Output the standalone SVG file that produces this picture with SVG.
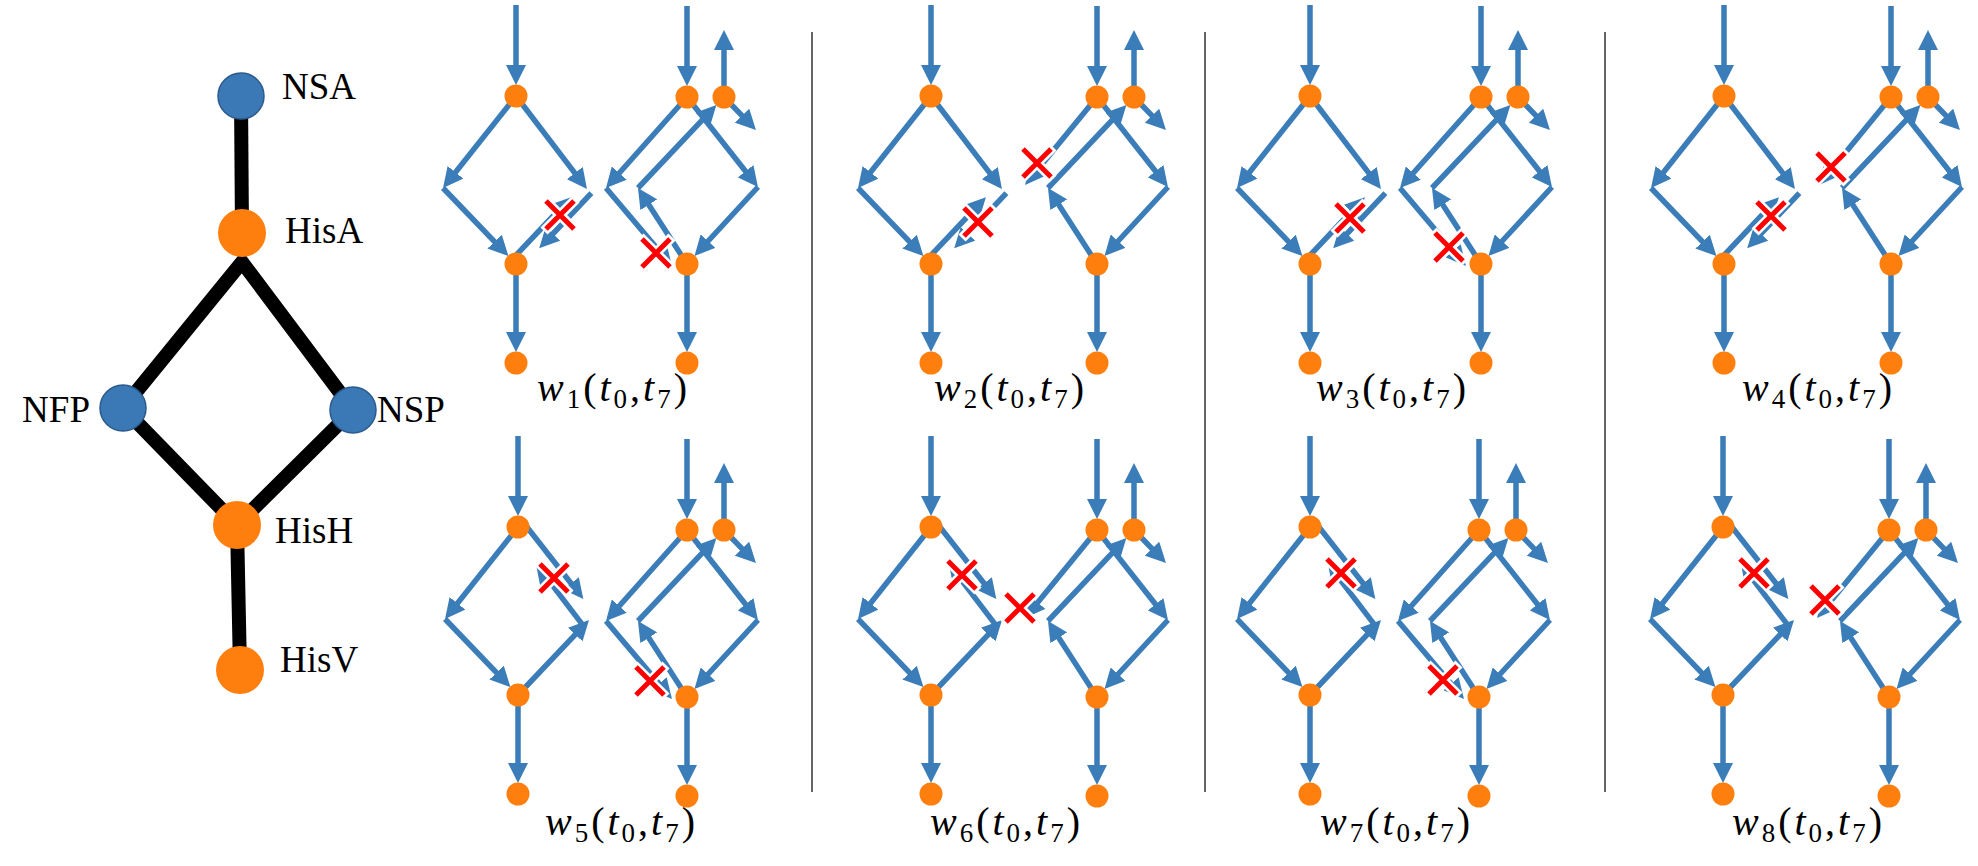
<svg xmlns="http://www.w3.org/2000/svg" width="1978" height="866" viewBox="0 0 1978 866">
<defs>
<marker id="ah" markerUnits="userSpaceOnUse" markerWidth="20" markerHeight="20" viewBox="0 0 20 20" refX="12" refY="10" orient="auto"><path d="M0,0 L20,10 L0,20 z" fill="#3B7DB9"/></marker>
<g id="xm"><path d="M-16,-16 L16,16 M-16,16 L16,-16" stroke="#fff" stroke-width="10"/><path d="M-14,-14 L14,14 M-14,14 L14,-14" stroke="#f00" stroke-width="5"/></g>
</defs>
<style>
.e{stroke:#3B7DB9;stroke-width:5.5;fill:none;marker-end:url(#ah)}
.n{fill:#FF7F0E}
.gb{fill:#3A78B6;stroke:#2B5B8C;stroke-width:1.5}
.go{fill:#FF7F0E}
.gt{font-family:"Liberation Serif","Times New Roman",serif;font-size:37px;fill:#000}
.lbl{font-family:"Liberation Serif","Times New Roman",serif;font-size:40px;fill:#000}
.it{font-style:italic}
.sub{font-size:27px}
.sep{stroke:#333;stroke-width:1.5}
</style>
<rect width="1978" height="866" fill="#fff"/>

<g id="graph">
 <g id="graph-connectors" stroke="#000" stroke-width="14" fill="none">
  <line x1="241" y1="96" x2="242" y2="233"/>
  <polyline points="123,408 242,262 353,410" stroke-linejoin="miter"/>
  <line x1="123" y1="408" x2="237" y2="525"/>
  <line x1="353" y1="410" x2="237" y2="525"/>
  <line x1="237" y1="525" x2="240" y2="670"/>
 </g>
 <g id="NSA"><circle class="gb" cx="241" cy="96" r="23"/><text class="gt" x="282" y="99">NSA</text></g>
 <g id="HisA"><circle class="go" cx="242" cy="233" r="24"/><text class="gt" x="285" y="243">HisA</text></g>
 <g id="NFP"><circle class="gb" cx="123" cy="408" r="23"/><text class="gt" x="90" y="422" text-anchor="end">NFP</text></g>
 <g id="NSP"><circle class="gb" cx="353" cy="410" r="23"/><text class="gt" x="377" y="422">NSP</text></g>
 <g id="HisH"><circle class="go" cx="237" cy="525" r="24"/><text class="gt" x="275" y="543">HisH</text></g>
 <g id="HisV"><circle class="go" cx="240" cy="670" r="24"/><text class="gt" x="280" y="672">HisV</text></g>
</g>

<g id="separators">
 <line class="sep" x1="812" y1="32" x2="812" y2="792"/>
 <line class="sep" x1="1205" y1="32" x2="1205" y2="792"/>
 <line class="sep" x1="1605" y1="32" x2="1605" y2="792"/>
</g>

<!-- w1 -->
<g id="w1">
 <g id="w1-left" transform="translate(516,96)">
  <g id="w1-left-connectors">
   <path class="e" d="M0,-91 L0,-19"/><path class="e" d="M0,0 L-68,85.7"/><path class="e" d="M-73,92 L-13.1,154.3"/><path class="e" d="M0,0 L66.1,86.6"/><path class="e" d="M75.4,97.1 L28.7,146.5"/><path class="e" d="M-4.4,163.9 L49.4,107"/><path class="e" d="M0,168 L0,248"/>
  </g>
  <g id="w1-l1"><circle class="n" cx="0" cy="0" r="11.5"/></g><g id="w1-l2"><circle class="n" cx="0" cy="168" r="11.5"/></g><g id="w1-l3"><circle class="n" cx="0" cy="267" r="11.5"/></g>
 </g>
 <g id="w1-right" transform="translate(687,97)">
  <g id="w1-right-connectors">
   <path class="e" d="M0,-91 L0,-19"/><path class="e" d="M37,0 L37,-59"/><path class="e" d="M37,0 L63.4,27.3"/><path class="e" d="M0,0 L66,83.7"/><path class="e" d="M71,90 L12.9,153"/><path class="e" d="M0,167 L-44.7,97.7"/><path class="e" d="M-49,91 L23.9,13.8"/><path class="e" d="M0,167 L0,247"/><path class="e" d="M0,0 L-75.7,85"/><path class="e" d="M-81,91 L-20.2,162.9"/>
  </g>
  <g id="w1-r1"><circle class="n" cx="0" cy="0" r="11.5"/></g><g id="w1-r2"><circle class="n" cx="37" cy="0" r="11.5"/></g><g id="w1-r3"><circle class="n" cx="0" cy="167" r="11.5"/></g><g id="w1-r4"><circle class="n" cx="0" cy="266" r="11.5"/></g>
 </g>
 <use href="#xm" transform="translate(560,215)"/><use href="#xm" transform="translate(656,253)"/>
 <text class="lbl" x="612" y="401" text-anchor="middle" textLength="150" lengthAdjust="spacing"><tspan class="it">w</tspan><tspan class="sub" dy="7">1</tspan><tspan dy="-7">(</tspan><tspan class="it">t</tspan><tspan class="sub" dy="7">0</tspan><tspan dy="-7">,</tspan><tspan class="it">t</tspan><tspan class="sub" dy="7">7</tspan><tspan dy="-7">)</tspan></text>
</g>

<!-- w2 -->
<g id="w2">
 <g id="w2-left" transform="translate(931,96)">
  <g id="w2-left-connectors">
   <path class="e" d="M0,-91 L0,-19"/><path class="e" d="M0,0 L-68,85.7"/><path class="e" d="M-73,92 L-13.1,154.3"/><path class="e" d="M0,0 L66.1,86.6"/><path class="e" d="M75.4,97.1 L28.7,146.5"/><path class="e" d="M-4.4,163.9 L49.4,107"/><path class="e" d="M0,168 L0,248"/>
  </g>
  <g id="w2-l1"><circle class="n" cx="0" cy="0" r="11.5"/></g><g id="w2-l2"><circle class="n" cx="0" cy="168" r="11.5"/></g><g id="w2-l3"><circle class="n" cx="0" cy="267" r="11.5"/></g>
 </g>
 <g id="w2-right" transform="translate(1097,97)">
  <g id="w2-right-connectors">
   <path class="e" d="M0,-91 L0,-19"/><path class="e" d="M37,0 L37,-59"/><path class="e" d="M37,0 L63.4,27.3"/><path class="e" d="M0,0 L66,83.7"/><path class="e" d="M71,90 L12.9,153"/><path class="e" d="M0,167 L-44.7,97.7"/><path class="e" d="M-49,91 L23.9,13.8"/><path class="e" d="M0,167 L0,247"/><path class="e" d="M0,0 L-66.9,81.8"/>
  </g>
  <g id="w2-r1"><circle class="n" cx="0" cy="0" r="11.5"/></g><g id="w2-r2"><circle class="n" cx="37" cy="0" r="11.5"/></g><g id="w2-r3"><circle class="n" cx="0" cy="167" r="11.5"/></g><g id="w2-r4"><circle class="n" cx="0" cy="266" r="11.5"/></g>
 </g>
 <use href="#xm" transform="translate(978,222)"/><use href="#xm" transform="translate(1037,163)"/>
 <text class="lbl" x="1009" y="401" text-anchor="middle" textLength="150" lengthAdjust="spacing"><tspan class="it">w</tspan><tspan class="sub" dy="7">2</tspan><tspan dy="-7">(</tspan><tspan class="it">t</tspan><tspan class="sub" dy="7">0</tspan><tspan dy="-7">,</tspan><tspan class="it">t</tspan><tspan class="sub" dy="7">7</tspan><tspan dy="-7">)</tspan></text>
</g>

<!-- w3 -->
<g id="w3">
 <g id="w3-left" transform="translate(1310,96)">
  <g id="w3-left-connectors">
   <path class="e" d="M0,-91 L0,-19"/><path class="e" d="M0,0 L-68,85.7"/><path class="e" d="M-73,92 L-13.1,154.3"/><path class="e" d="M0,0 L66.1,86.6"/><path class="e" d="M75.4,97.1 L28.7,146.5"/><path class="e" d="M-4.4,163.9 L49.4,107"/><path class="e" d="M0,168 L0,248"/>
  </g>
  <g id="w3-l1"><circle class="n" cx="0" cy="0" r="11.5"/></g><g id="w3-l2"><circle class="n" cx="0" cy="168" r="11.5"/></g><g id="w3-l3"><circle class="n" cx="0" cy="267" r="11.5"/></g>
 </g>
 <g id="w3-right" transform="translate(1481,97)">
  <g id="w3-right-connectors">
   <path class="e" d="M0,-91 L0,-19"/><path class="e" d="M37,0 L37,-59"/><path class="e" d="M37,0 L63.4,27.3"/><path class="e" d="M0,0 L66,83.7"/><path class="e" d="M71,90 L12.9,153"/><path class="e" d="M0,167 L-44.7,97.7"/><path class="e" d="M-49,91 L23.9,13.8"/><path class="e" d="M0,167 L0,247"/><path class="e" d="M0,0 L-75.7,85"/><path class="e" d="M-81,91 L-20.2,162.9"/>
  </g>
  <g id="w3-r1"><circle class="n" cx="0" cy="0" r="11.5"/></g><g id="w3-r2"><circle class="n" cx="37" cy="0" r="11.5"/></g><g id="w3-r3"><circle class="n" cx="0" cy="167" r="11.5"/></g><g id="w3-r4"><circle class="n" cx="0" cy="266" r="11.5"/></g>
 </g>
 <use href="#xm" transform="translate(1350,218)"/><use href="#xm" transform="translate(1449,247)"/>
 <text class="lbl" x="1391" y="401" text-anchor="middle" textLength="150" lengthAdjust="spacing"><tspan class="it">w</tspan><tspan class="sub" dy="7">3</tspan><tspan dy="-7">(</tspan><tspan class="it">t</tspan><tspan class="sub" dy="7">0</tspan><tspan dy="-7">,</tspan><tspan class="it">t</tspan><tspan class="sub" dy="7">7</tspan><tspan dy="-7">)</tspan></text>
</g>

<!-- w4 -->
<g id="w4">
 <g id="w4-left" transform="translate(1724,96)">
  <g id="w4-left-connectors">
   <path class="e" d="M0,-91 L0,-19"/><path class="e" d="M0,0 L-68,85.7"/><path class="e" d="M-73,92 L-13.1,154.3"/><path class="e" d="M0,0 L66.1,86.6"/><path class="e" d="M75.4,97.1 L28.7,146.5"/><path class="e" d="M-4.4,163.9 L49.4,107"/><path class="e" d="M0,168 L0,248"/>
  </g>
  <g id="w4-l1"><circle class="n" cx="0" cy="0" r="11.5"/></g><g id="w4-l2"><circle class="n" cx="0" cy="168" r="11.5"/></g><g id="w4-l3"><circle class="n" cx="0" cy="267" r="11.5"/></g>
 </g>
 <g id="w4-right" transform="translate(1891,97)">
  <g id="w4-right-connectors">
   <path class="e" d="M0,-91 L0,-19"/><path class="e" d="M37,0 L37,-59"/><path class="e" d="M37,0 L63.4,27.3"/><path class="e" d="M0,0 L66,83.7"/><path class="e" d="M71,90 L12.9,153"/><path class="e" d="M0,167 L-44.7,97.7"/><path class="e" d="M-49,91 L23.9,13.8"/><path class="e" d="M0,167 L0,247"/><path class="e" d="M0,0 L-66.9,81.8"/>
  </g>
  <g id="w4-r1"><circle class="n" cx="0" cy="0" r="11.5"/></g><g id="w4-r2"><circle class="n" cx="37" cy="0" r="11.5"/></g><g id="w4-r3"><circle class="n" cx="0" cy="167" r="11.5"/></g><g id="w4-r4"><circle class="n" cx="0" cy="266" r="11.5"/></g>
 </g>
 <use href="#xm" transform="translate(1771,216)"/><use href="#xm" transform="translate(1831,167)"/>
 <text class="lbl" x="1817" y="401" text-anchor="middle" textLength="150" lengthAdjust="spacing"><tspan class="it">w</tspan><tspan class="sub" dy="7">4</tspan><tspan dy="-7">(</tspan><tspan class="it">t</tspan><tspan class="sub" dy="7">0</tspan><tspan dy="-7">,</tspan><tspan class="it">t</tspan><tspan class="sub" dy="7">7</tspan><tspan dy="-7">)</tspan></text>
</g>

<!-- w5 -->
<g id="w5">
 <g id="w5-left" transform="translate(518,527)">
  <g id="w5-left-connectors">
   <path class="e" d="M0,-91 L0,-19"/><path class="e" d="M0,0 L-68,85.7"/><path class="e" d="M-73,92 L-13.1,154.3"/><path class="e" d="M0,168 L65.5,98.8"/><path class="e" d="M5.6,-4.2 L60.4,65.8"/><path class="e" d="M64.6,97.9 L22.8,43.1"/><path class="e" d="M0,168 L0,248"/>
  </g>
  <g id="w5-l1"><circle class="n" cx="0" cy="0" r="11.5"/></g><g id="w5-l2"><circle class="n" cx="0" cy="168" r="11.5"/></g><g id="w5-l3"><circle class="n" cx="0" cy="267" r="11.5"/></g>
 </g>
 <g id="w5-right" transform="translate(687,530)">
  <g id="w5-right-connectors">
   <path class="e" d="M0,-91 L0,-19"/><path class="e" d="M37,0 L37,-59"/><path class="e" d="M37,0 L63.4,27.3"/><path class="e" d="M0,0 L66,83.7"/><path class="e" d="M71,90 L12.9,153"/><path class="e" d="M0,167 L-44.7,97.7"/><path class="e" d="M-49,91 L23.9,13.8"/><path class="e" d="M0,167 L0,247"/><path class="e" d="M0,0 L-75.7,85"/><path class="e" d="M-81,91 L-20.2,162.9"/>
  </g>
  <g id="w5-r1"><circle class="n" cx="0" cy="0" r="11.5"/></g><g id="w5-r2"><circle class="n" cx="37" cy="0" r="11.5"/></g><g id="w5-r3"><circle class="n" cx="0" cy="167" r="11.5"/></g><g id="w5-r4"><circle class="n" cx="0" cy="266" r="11.5"/></g>
 </g>
 <use href="#xm" transform="translate(554,578)"/><use href="#xm" transform="translate(650,681)"/>
 <text class="lbl" x="620" y="835" text-anchor="middle" textLength="150" lengthAdjust="spacing"><tspan class="it">w</tspan><tspan class="sub" dy="7">5</tspan><tspan dy="-7">(</tspan><tspan class="it">t</tspan><tspan class="sub" dy="7">0</tspan><tspan dy="-7">,</tspan><tspan class="it">t</tspan><tspan class="sub" dy="7">7</tspan><tspan dy="-7">)</tspan></text>
</g>

<!-- w6 -->
<g id="w6">
 <g id="w6-left" transform="translate(931,527)">
  <g id="w6-left-connectors">
   <path class="e" d="M0,-91 L0,-19"/><path class="e" d="M0,0 L-68,85.7"/><path class="e" d="M-73,92 L-13.1,154.3"/><path class="e" d="M0,168 L65.5,98.8"/><path class="e" d="M5.6,-4.2 L60.4,65.8"/><path class="e" d="M64.6,97.9 L22.8,43.1"/><path class="e" d="M0,168 L0,248"/>
  </g>
  <g id="w6-l1"><circle class="n" cx="0" cy="0" r="11.5"/></g><g id="w6-l2"><circle class="n" cx="0" cy="168" r="11.5"/></g><g id="w6-l3"><circle class="n" cx="0" cy="267" r="11.5"/></g>
 </g>
 <g id="w6-right" transform="translate(1097,530)">
  <g id="w6-right-connectors">
   <path class="e" d="M0,-91 L0,-19"/><path class="e" d="M37,0 L37,-59"/><path class="e" d="M37,0 L63.4,27.3"/><path class="e" d="M0,0 L66,83.7"/><path class="e" d="M71,90 L12.9,153"/><path class="e" d="M0,167 L-44.7,97.7"/><path class="e" d="M-49,91 L23.9,13.8"/><path class="e" d="M0,167 L0,247"/><path class="e" d="M0,0 L-66.9,81.8"/>
  </g>
  <g id="w6-r1"><circle class="n" cx="0" cy="0" r="11.5"/></g><g id="w6-r2"><circle class="n" cx="37" cy="0" r="11.5"/></g><g id="w6-r3"><circle class="n" cx="0" cy="167" r="11.5"/></g><g id="w6-r4"><circle class="n" cx="0" cy="266" r="11.5"/></g>
 </g>
 <use href="#xm" transform="translate(962,575)"/><use href="#xm" transform="translate(1020,608)"/>
 <text class="lbl" x="1005" y="835" text-anchor="middle" textLength="150" lengthAdjust="spacing"><tspan class="it">w</tspan><tspan class="sub" dy="7">6</tspan><tspan dy="-7">(</tspan><tspan class="it">t</tspan><tspan class="sub" dy="7">0</tspan><tspan dy="-7">,</tspan><tspan class="it">t</tspan><tspan class="sub" dy="7">7</tspan><tspan dy="-7">)</tspan></text>
</g>

<!-- w7 -->
<g id="w7">
 <g id="w7-left" transform="translate(1310,527)">
  <g id="w7-left-connectors">
   <path class="e" d="M0,-91 L0,-19"/><path class="e" d="M0,0 L-68,85.7"/><path class="e" d="M-73,92 L-13.1,154.3"/><path class="e" d="M0,168 L65.5,98.8"/><path class="e" d="M5.6,-4.2 L60.4,65.8"/><path class="e" d="M64.6,97.9 L22.8,43.1"/><path class="e" d="M0,168 L0,248"/>
  </g>
  <g id="w7-l1"><circle class="n" cx="0" cy="0" r="11.5"/></g><g id="w7-l2"><circle class="n" cx="0" cy="168" r="11.5"/></g><g id="w7-l3"><circle class="n" cx="0" cy="267" r="11.5"/></g>
 </g>
 <g id="w7-right" transform="translate(1479,530)">
  <g id="w7-right-connectors">
   <path class="e" d="M0,-91 L0,-19"/><path class="e" d="M37,0 L37,-59"/><path class="e" d="M37,0 L63.4,27.3"/><path class="e" d="M0,0 L66,83.7"/><path class="e" d="M71,90 L12.9,153"/><path class="e" d="M0,167 L-44.7,97.7"/><path class="e" d="M-49,91 L23.9,13.8"/><path class="e" d="M0,167 L0,247"/><path class="e" d="M0,0 L-75.7,85"/><path class="e" d="M-81,91 L-20.2,162.9"/>
  </g>
  <g id="w7-r1"><circle class="n" cx="0" cy="0" r="11.5"/></g><g id="w7-r2"><circle class="n" cx="37" cy="0" r="11.5"/></g><g id="w7-r3"><circle class="n" cx="0" cy="167" r="11.5"/></g><g id="w7-r4"><circle class="n" cx="0" cy="266" r="11.5"/></g>
 </g>
 <use href="#xm" transform="translate(1341,573)"/><use href="#xm" transform="translate(1443,680)"/>
 <text class="lbl" x="1395" y="835" text-anchor="middle" textLength="150" lengthAdjust="spacing"><tspan class="it">w</tspan><tspan class="sub" dy="7">7</tspan><tspan dy="-7">(</tspan><tspan class="it">t</tspan><tspan class="sub" dy="7">0</tspan><tspan dy="-7">,</tspan><tspan class="it">t</tspan><tspan class="sub" dy="7">7</tspan><tspan dy="-7">)</tspan></text>
</g>

<!-- w8 -->
<g id="w8">
 <g id="w8-left" transform="translate(1723,527)">
  <g id="w8-left-connectors">
   <path class="e" d="M0,-91 L0,-19"/><path class="e" d="M0,0 L-68,85.7"/><path class="e" d="M-73,92 L-13.1,154.3"/><path class="e" d="M0,168 L65.5,98.8"/><path class="e" d="M5.6,-4.2 L60.4,65.8"/><path class="e" d="M64.6,97.9 L22.8,43.1"/><path class="e" d="M0,168 L0,248"/>
  </g>
  <g id="w8-l1"><circle class="n" cx="0" cy="0" r="11.5"/></g><g id="w8-l2"><circle class="n" cx="0" cy="168" r="11.5"/></g><g id="w8-l3"><circle class="n" cx="0" cy="267" r="11.5"/></g>
 </g>
 <g id="w8-right" transform="translate(1889,530)">
  <g id="w8-right-connectors">
   <path class="e" d="M0,-91 L0,-19"/><path class="e" d="M37,0 L37,-59"/><path class="e" d="M37,0 L63.4,27.3"/><path class="e" d="M0,0 L66,83.7"/><path class="e" d="M71,90 L12.9,153"/><path class="e" d="M0,167 L-44.7,97.7"/><path class="e" d="M-49,91 L23.9,13.8"/><path class="e" d="M0,167 L0,247"/><path class="e" d="M0,0 L-66.9,81.8"/>
  </g>
  <g id="w8-r1"><circle class="n" cx="0" cy="0" r="11.5"/></g><g id="w8-r2"><circle class="n" cx="37" cy="0" r="11.5"/></g><g id="w8-r3"><circle class="n" cx="0" cy="167" r="11.5"/></g><g id="w8-r4"><circle class="n" cx="0" cy="266" r="11.5"/></g>
 </g>
 <use href="#xm" transform="translate(1754,573)"/><use href="#xm" transform="translate(1825,600)"/>
 <text class="lbl" x="1807" y="835" text-anchor="middle" textLength="150" lengthAdjust="spacing"><tspan class="it">w</tspan><tspan class="sub" dy="7">8</tspan><tspan dy="-7">(</tspan><tspan class="it">t</tspan><tspan class="sub" dy="7">0</tspan><tspan dy="-7">,</tspan><tspan class="it">t</tspan><tspan class="sub" dy="7">7</tspan><tspan dy="-7">)</tspan></text>
</g>
</svg>
